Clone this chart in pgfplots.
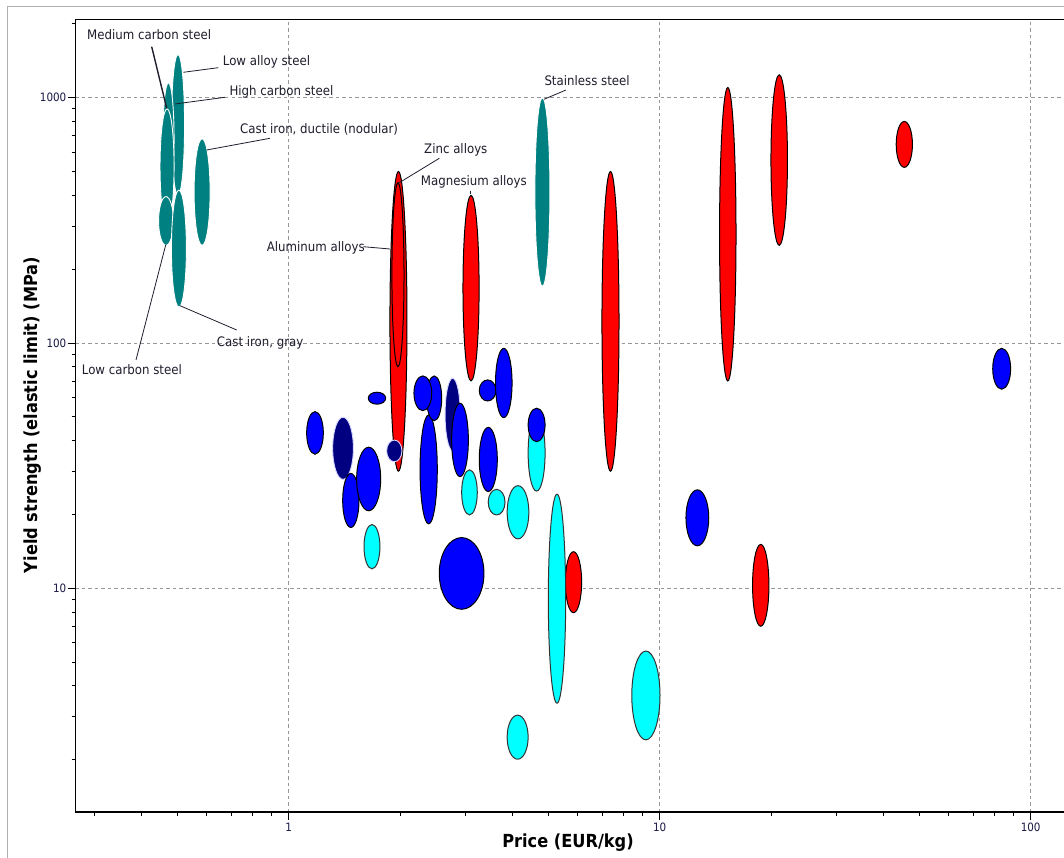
\documentclass[border=0pt]{standalone}
\usepackage{fontspec}
\setmainfont{DejaVu Sans}[FakeStretch=0.9]
\usepackage{pgfplots}
\usepackage{pgfplotstable}
\pgfplotsset{compat=1.18}

\definecolor{steelteal}{RGB}{0,128,128}
\definecolor{metalred}{RGB}{255,0,0}
\definecolor{polyblue}{RGB}{0,0,255}
\definecolor{polynavy}{RGB}{0,0,128}
\definecolor{elastcyan}{RGB}{0,255,255}
\definecolor{gridgray}{RGB}{150,150,150}
\definecolor{framegray}{RGB}{175,175,175}
\definecolor{ticktext}{RGB}{25,25,70}
\definecolor{annot}{RGB}{30,30,45}
\definecolor{navyedge}{RGB}{215,215,255}

% ellipse mark whose half axes come from the data ranges (log decades -> pt)
\pgfdeclareplotmark{ellip}{%
  \pgfpathellipse{\pgfpointorigin}{\pgfpoint{\rx pt}{0pt}}{\pgfpoint{0pt}{\ry pt}}%
  \pgfusepathqfillstroke}

\pgfplotsset{ell/.style={scatter, only marks, mark=ellip,
  visualization depends on={80.5616*ln(\thisrow{xhi}/\thisrow{xlo}) \as \rx},
  visualization depends on={53.2662*ln(\thisrow{yhi}/\thisrow{ylo}) \as \ry},
  scatter/use mapped color={#1}}}

% price range (EUR/kg) and yield strength range (MPa)
\pgfplotstableread{
xlo xhi ylo yhi
0.483 0.524 400 1500
0.458 0.491 400 1150
0.450 0.491 305 900
0.446 0.489 250 395
0.483 0.530 140 420
0.556 0.614 250 680
4.61 5.06 170 1000
}\steels

\pgfplotstableread{
xlo xhi ylo yhi
1.875 2.084 30 500
1.898 2.046 80 450
2.95 3.26 70 400
6.99 7.77 30 500
14.5 16.06 70 1100
19.95 22.1 250 1240
43.4 48.0 520 800
17.8 19.7 7 15.1
5.57 6.16 7.95 14.1
}\nonferrous

\pgfplotstableread{
xlo xhi ylo yhi
4.42 4.91 24.9 50.9
2.926 3.224 19.9 30.4
3.45 3.83 19.9 25.3
3.88 4.44 15.9 26.2
5.01 5.58 3.4 24.2
1.596 1.762 12 18.2
3.88 4.42 2.01 3.04
8.41 10.02 2.41 5.55
}\cyanset

\pgfplotstableread{
xlo xhi ylo yhi
1.314 1.494 27.8 49.8
2.64 2.90 36.4 71.8
1.837 2.02 32.8 40.2
}\navyset

\pgfplotstableread{
xlo xhi ylo yhi
1.118 1.24 35.2 52.5
1.639 1.826 56.3 63
1.398 1.547 17.7 29.4
1.525 1.77 20.7 37.6
2.26 2.515 18.3 50.9
2.355 2.585 48.2 73.4
2.176 2.43 53 73.4
2.75 3.05 28.5 56.8
3.264 3.62 58 70.7
3.61 4.0 49.6 95.1
3.264 3.65 24.8 45.3
4.42 4.91 39.6 54.2
2.546 3.36 8.21 16.1
11.77 13.56 14.9 25.2
79 88.3 64.8 95.1
}\blueset

\begin{document}
\begin{tikzpicture}
\useasboundingbox (-75.5pt,-45pt) rectangle (988.5pt,812pt);
\clip (-75.5pt,-45pt) rectangle (988.5pt,812pt);
\fill[white] (-75.5pt,-45pt) rectangle (988.5pt,812pt);
\draw[framegray, line width=1pt] (-67.5pt,-60pt) rectangle (1000pt,805pt);
\begin{axis}[
  at={(0pt,0pt)}, anchor=south west,
  scale only axis, width=994.96pt, height=792.7pt,
  xmode=log, ymode=log,
  xmin=0.2663, xmax=128, ymin=1.2246, ymax=2087,
  xtick={1,10,100}, xticklabels={1,10,100},
  ytick={10,100,1000}, yticklabels={10,100,1000},
  minor xtick={0.3,0.4,0.5,0.6,0.7,0.8,0.9,2,3,4,5,6,7,8,9,20,30,40,50,60,70,80,90},
  minor ytick={2,3,4,5,6,7,8,9,20,30,40,50,60,70,80,90,200,300,400,500,600,700,800,900,2000},
  tick pos=left, tick align=outside,
  major tick length=8pt, minor tick length=4pt,
  tick style={black, line width=0.8pt},
  axis line style={black, line width=1.2pt},
  grid=major,
  major grid style={gridgray, line width=0.8pt, dash pattern=on 3.5pt off 3pt},
  tick label style={font=\fontsize{11.5}{13}\selectfont, text=ticktext},
  yticklabel style={inner sep=1pt},
  xticklabel style={inner sep=2.5pt},
  xlabel={Price (EUR/kg)},
  ylabel={Yield strength (elastic limit) (MPa)},
  label style={font=\bfseries\fontsize{18}{21}\selectfont},
  xlabel style={at={(axis description cs:0.495,-0.0391)}, anchor=center},
  ylabel style={at={(axis description cs:-0.0427,0.5008)}, anchor=center},
]
\addplot[ell={draw=white, fill=steelteal, line width=0.9pt}]
  table[x expr={sqrt(\thisrow{xlo}*\thisrow{xhi})}, y expr={sqrt(\thisrow{ylo}*\thisrow{yhi})}] {\steels};
\addplot[ell={draw=black, fill=metalred, line width=1pt}]
  table[x expr={sqrt(\thisrow{xlo}*\thisrow{xhi})}, y expr={sqrt(\thisrow{ylo}*\thisrow{yhi})}] {\nonferrous};
\addplot[ell={draw=black!80, fill=elastcyan, line width=1pt}]
  table[x expr={sqrt(\thisrow{xlo}*\thisrow{xhi})}, y expr={sqrt(\thisrow{ylo}*\thisrow{yhi})}] {\cyanset};
\addplot[ell={draw=navyedge, fill=polynavy, line width=0.9pt}]
  table[x expr={sqrt(\thisrow{xlo}*\thisrow{xhi})}, y expr={sqrt(\thisrow{ylo}*\thisrow{yhi})}] {\navyset};
\addplot[ell={draw=black, fill=polyblue, line width=1pt}]
  table[x expr={sqrt(\thisrow{xlo}*\thisrow{xhi})}, y expr={sqrt(\thisrow{ylo}*\thisrow{yhi})}] {\blueset};
\end{axis}
\begin{scope}[x=1pt, y=-1pt, shift={(-75.5pt,812pt)}, every node/.style={anchor=base west, inner sep=0pt, text=annot, font=\fontsize{13.1}{15}\selectfont}]
  \draw[annot, line width=1.4pt] (151.7,46.7) -- (166.7,108.3);
  \draw[annot, line width=0.8pt] (218.3,67.7) -- (183.3,72.3);
  \draw[annot, line width=0.8pt] (225,97.3) -- (175,104);
  \draw[annot, line width=0.8pt] (270,138.3) -- (206.7,150);
  \draw[annot, line width=0.8pt] (236.7,330) -- (180,305.7);
  \draw[annot, line width=0.8pt] (136,360) -- (165.7,245);
  \draw[annot, line width=0.8pt] (363.3,246.7) -- (390,249);
  \draw[annot, line width=0.8pt] (439.3,158.3) -- (398.3,183.3);
  \draw[annot, line width=0.8pt] (470.7,190.7) -- (470.7,194.5);
  \draw[annot, line width=0.8pt] (566,90) -- (544,99.3);
  \node at (87,39.3) {Medium carbon steel};
  \node at (222.7,65.5) {Low alloy steel};
  \node at (229.3,95.3) {High carbon steel};
  \node at (240,133.6) {Cast iron, ductile (nodular)};
  \node at (216.7,346.3) {Cast iron, gray};
  \node at (81.7,374.6) {Low carbon steel};
  \node at (266.7,252) {Aluminum alloys};
  \node at (424,154) {Zinc alloys};
  \node at (420.7,185.6) {Magnesium alloys};
  \node at (544.3,85.6) {Stainless steel};
\end{scope}
\end{tikzpicture}
\end{document}
